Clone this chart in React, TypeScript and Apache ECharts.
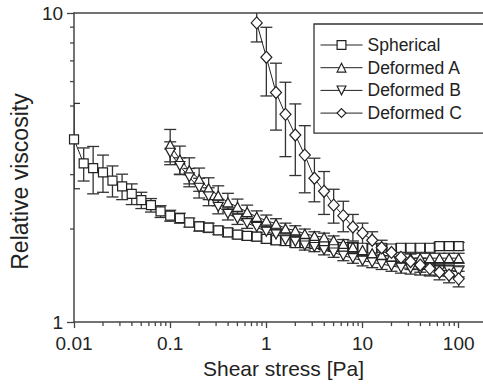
import React, { useEffect, useRef } from "react";
import * as echarts from "echarts";

// Shear stress grid (Pa), 10 points per decade
const X = [
  0.01, 0.0126, 0.0158, 0.02, 0.0251, 0.0316, 0.0398, 0.0501, 0.0631, 0.0794,
  0.1, 0.126, 0.158, 0.2, 0.251, 0.316, 0.398, 0.501, 0.631, 0.794,
  1, 1.26, 1.58, 2, 2.51, 3.16, 3.98, 5.01, 6.31, 7.94,
  10, 12.6, 15.8, 20, 25.1, 31.6, 39.8, 50.1, 63.1, 79.4, 100,
];

// Spherical: all 41 points
const SPHERICAL = [
  3.9, 3.26, 3.15, 3.05, 2.87, 2.75, 2.6, 2.48, 2.39, 2.28,
  2.21, 2.17, 2.1, 2.04, 2.02, 1.98, 1.95, 1.92, 1.9, 1.89,
  1.86, 1.84, 1.83, 1.8, 1.8, 1.79, 1.77, 1.75, 1.75, 1.74,
  1.74, 1.73, 1.74, 1.73, 1.74, 1.74, 1.74, 1.74, 1.76, 1.76, 1.76,
];
const SPHERICAL_ERR = [
  1.2, 0.4, 0.55, 0.42, 0.33, 0.26, 0.2, 0.15, 0.12, 0.1,
  0.09, 0.08, 0.07, 0.07, 0.07, 0.06, 0.06, 0.06, 0.06, 0.06,
  0.06, 0.06, 0.06, 0.05, 0.05, 0.05, 0.05, 0.05, 0.05, 0.05,
  0.05, 0.05, 0.05, 0.05, 0.05, 0.05, 0.05, 0.05, 0.05, 0.05, 0.05,
];

// Deformed A and B: from 0.1 Pa (index 10) to 100 Pa
const DEF_A_START = 10;
const DEF_A = [
  3.75, 3.36, 3.1, 2.9, 2.71, 2.57, 2.44, 2.36, 2.27, 2.19,
  2.13, 2.08, 2.01, 1.98, 1.93, 1.9, 1.88, 1.84, 1.79, 1.75,
  1.71, 1.67, 1.65, 1.63, 1.62, 1.61, 1.61, 1.61, 1.61, 1.61, 1.61,
];
const DEF_A_ERR = [
  0.45, 0.35, 0.3, 0.25, 0.22, 0.19, 0.17, 0.14, 0.12, 0.1,
  0.09, 0.08, 0.08, 0.07, 0.07, 0.06, 0.06, 0.06, 0.06, 0.06,
  0.06, 0.06, 0.06, 0.06, 0.06, 0.06, 0.06, 0.06, 0.06, 0.06, 0.06,
];

const DEF_B_START = 10;
const DEF_B = [
  3.53, 3.2, 2.94, 2.72, 2.55, 2.36, 2.24, 2.16, 2.09, 2.03,
  1.96, 1.92, 1.84, 1.82, 1.77, 1.75, 1.71, 1.68, 1.64, 1.61,
  1.58, 1.56, 1.54, 1.52, 1.5, 1.49, 1.48, 1.48, 1.47, 1.47, 1.46,
];
const DEF_B_ERR = [
  0.3, 0.2, 0.2, 0.2, 0.17, 0.12, 0.1, 0.09, 0.08, 0.08,
  0.07, 0.07, 0.07, 0.07, 0.06, 0.06, 0.06, 0.06, 0.06, 0.06,
  0.06, 0.06, 0.06, 0.06, 0.06, 0.06, 0.06, 0.06, 0.06, 0.06, 0.06,
];

// Deformed C: from ~0.79 Pa (index 19) to 100 Pa
const DEF_C_START = 19;
const DEF_C = [
  9.29, 7.19, 5.53, 4.7, 4.03, 3.47, 2.92, 2.65, 2.39, 2.21,
  2.03, 1.94, 1.84, 1.74, 1.68, 1.62, 1.57, 1.53, 1.49, 1.45, 1.42, 1.38,
];
const DEF_C_ERR = [
  1.23, 1.8, 1.35, 1.27, 1.05, 0.85, 0.47, 0.42, 0.3, 0.25,
  0.2, 0.15, 0.12, 0.1, 0.1, 0.09, 0.09, 0.08, 0.08, 0.08, 0.08, 0.08,
];

const X_MINOR = [
  0.02, 0.03, 0.04, 0.05, 0.06, 0.07, 0.08, 0.09,
  0.2, 0.3, 0.4, 0.5, 0.6, 0.7, 0.8, 0.9,
  2, 3, 4, 5, 6, 7, 8, 9,
  20, 30, 40, 50, 60, 70, 80, 90,
];
const Y_MINOR = [2, 3, 4, 5, 6, 7, 8, 9];

const X_MIN = 0.01;
const X_MAX = 179;
const Y_MIN = 1;
const Y_MAX = 10;

const FONT = "'Liberation Sans', Arial, Helvetica, sans-serif";
const INK = "#222";
const AXIS = "#444";

function pairs(start: number, ys: number[]) {
  return ys.map((y, i) => [X[start + i], y]);
}
function errRows(start: number, ys: number[], es: number[]) {
  return ys.map((y, i) => [X[start + i], y - es[i], y + es[i]]);
}

const errStyle = { stroke: "#333", lineWidth: 1.3 };
function errorRender(params: any, api: any) {
  const x = api.value(0);
  const pLo = api.coord([x, api.value(1)]);
  const pHi = api.coord([x, api.value(2)]);
  const hw = 6;
  return {
    type: "group",
    children: [
      { type: "line", shape: { x1: pHi[0], y1: pHi[1], x2: pLo[0], y2: pLo[1] }, style: errStyle },
      { type: "line", shape: { x1: pHi[0] - hw, y1: pHi[1], x2: pHi[0] + hw, y2: pHi[1] }, style: errStyle },
      { type: "line", shape: { x1: pLo[0] - hw, y1: pLo[1], x2: pLo[0] + hw, y2: pLo[1] }, style: errStyle },
    ],
  };
}

function errSeries(data: number[][]) {
  return {
    type: "custom",
    renderItem: errorRender,
    data,
    encode: { x: 0, y: [1, 2] },
    clip: true,
    silent: true,
    z: 1,
  };
}

function lineSeries(name: string, data: number[][], symbol: string, size: any, rotate = 0) {
  return {
    name,
    type: "line",
    data,
    symbol,
    symbolSize: size,
    symbolRotate: rotate,
    showAllSymbol: true,
    clip: true,
    lineStyle: { color: INK, width: 1 },
    itemStyle: { color: "#fff", borderColor: INK, borderWidth: 1.2 },
    z: 3,
  };
}

export default function App() {
  const ref = useRef<HTMLDivElement>(null);
  useEffect(() => {
    if (!ref.current) return;
    const chart = echarts.init(ref.current, null, { renderer: "svg" });
    const option: any = {
      animation: false,
      backgroundColor: "#fff",
      textStyle: { fontFamily: FONT },
      grid: { left: 64, top: 13, width: 421, height: 313 },
      legend: {
        data: ["Spherical", "Deformed A", "Deformed B", "Deformed C"],
        orient: "vertical",
        left: 314,
        top: 24,
        itemWidth: 42,
        itemHeight: 11,
        itemGap: 4.7,
        padding: [12, 40, 11, 6],
        borderColor: "#333",
        borderWidth: 1.3,
        backgroundColor: "#fff",
        lineStyle: { width: 1, color: INK },
        itemStyle: { color: "#fff", borderColor: INK, borderWidth: 1.2 },
        textStyle: { fontFamily: FONT, fontSize: 17.5, color: INK, lineHeight: 18 },
        z: 10,
      },
      xAxis: [
        {
          type: "log",
          logBase: 10,
          min: X_MIN,
          max: X_MAX,
          name: "Shear stress [Pa]",
          nameLocation: "middle",
          nameGap: 30,
          nameTextStyle: { fontFamily: FONT, fontSize: 21, color: INK, padding: [0, 0, 0, 10] },
          axisLine: { show: true, lineStyle: { color: AXIS, width: 1.5 } },
          axisTick: { show: true, inside: false, length: 6, lineStyle: { color: AXIS, width: 1.3 } },
          minorTick: { show: false },
          splitLine: { show: false },
          axisLabel: {
            fontFamily: FONT,
            fontSize: 19,
            color: INK,
            margin: 12,
            formatter: (v: number) => String(+v.toPrecision(3)),
          },
        },
        {
          type: "log",
          position: "top",
          min: X_MIN,
          max: X_MAX,
          axisLine: { show: true, lineStyle: { color: AXIS, width: 1.5 } },
          axisTick: { show: false },
          axisLabel: { show: false },
          splitLine: { show: false },
        },
      ],
      yAxis: {
        type: "log",
        logBase: 10,
        min: Y_MIN,
        max: Y_MAX,
        name: "Relative viscosity",
        nameLocation: "middle",
        nameGap: 33,
        nameTextStyle: { fontFamily: FONT, fontSize: 23, color: INK, padding: [0, 28, 0, 0] },
        axisLine: { show: true, lineStyle: { color: AXIS, width: 1.5 } },
        axisTick: { show: true, inside: false, length: 7, lineStyle: { color: AXIS, width: 1.3 } },
        minorTick: { show: false },
        splitLine: { show: false },
        axisLabel: {
          fontFamily: FONT,
          fontSize: 19,
          color: INK,
          margin: 11,
          formatter: (v: number) => String(+v.toPrecision(3)),
        },
      },
      series: [
        {
          type: "custom",
          silent: true,
          data: X_MINOR.map((v) => [v, Y_MIN]),
          encode: { x: 0, y: 1 },
          renderItem: (params: any, api: any) => {
            const p = api.coord([api.value(0), api.value(1)]);
            return {
              type: "line",
              shape: { x1: p[0], y1: p[1], x2: p[0], y2: p[1] + 4 },
              style: { stroke: AXIS, lineWidth: 1.3 },
            };
          },
          z: 0,
        },
        {
          type: "custom",
          silent: true,
          data: Y_MINOR.map((v) => [X_MIN, v]),
          encode: { x: 0, y: 1 },
          renderItem: (params: any, api: any) => {
            const p = api.coord([api.value(0), api.value(1)]);
            return {
              type: "line",
              shape: { x1: p[0] - 4, y1: p[1], x2: p[0], y2: p[1] },
              style: { stroke: AXIS, lineWidth: 1.3 },
            };
          },
          z: 0,
        },
        errSeries(errRows(0, SPHERICAL, SPHERICAL_ERR)),
        errSeries(errRows(DEF_A_START, DEF_A, DEF_A_ERR)),
        errSeries(errRows(DEF_B_START, DEF_B, DEF_B_ERR)),
        errSeries(errRows(DEF_C_START, DEF_C, DEF_C_ERR)),
        lineSeries("Spherical", pairs(0, SPHERICAL), "rect", 9),
        lineSeries("Deformed A", pairs(DEF_A_START, DEF_A), "triangle", [10, 9]),
        lineSeries("Deformed B", pairs(DEF_B_START, DEF_B), "triangle", [10, 9], 180),
        lineSeries("Deformed C", pairs(DEF_C_START, DEF_C), "diamond", [11, 12]),
      ],
    };
    chart.setOption(option);
    return () => chart.dispose();
  }, []);
  return (
    <div
      ref={ref}
      style={{ position: "absolute", left: 0, top: 0, width: 483, height: 384 }}
    />
  );
}
